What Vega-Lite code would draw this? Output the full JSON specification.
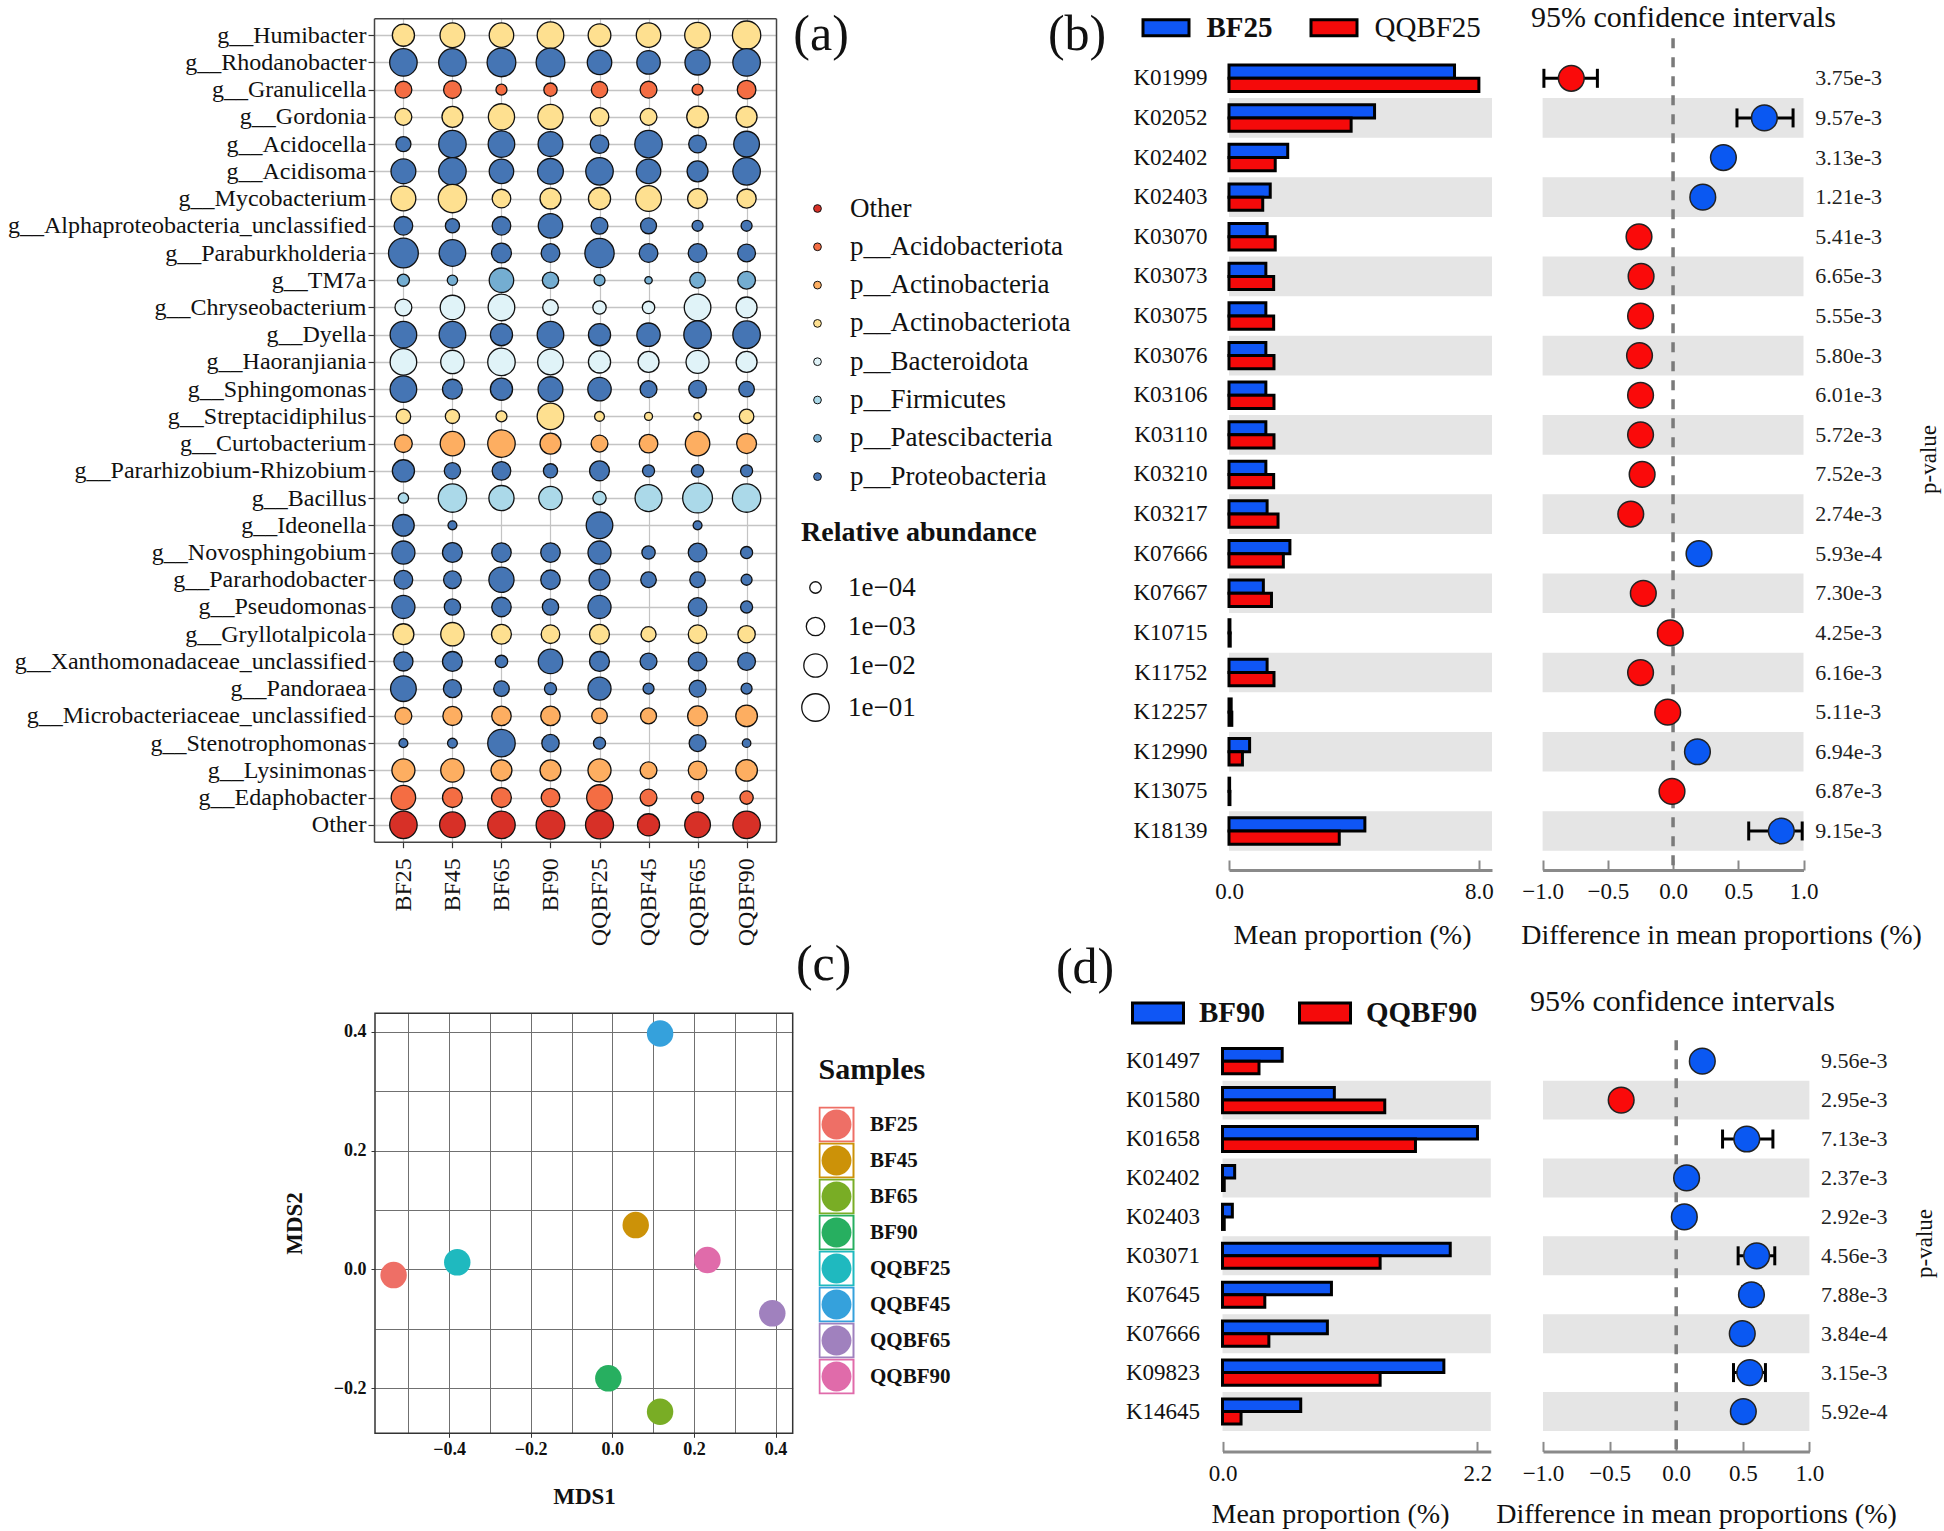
{
  "$schema": "https://vega.github.io/schema/vega-lite/v6.json",
  "width": 1944,
  "height": 1531,
  "autosize": {"type": "none"},
  "padding": 0,
  "background": "white",
  "config": {
    "font": "Liberation Serif",
    "view": {"stroke": null},
    "axis": {"labelFont": "Liberation Serif", "titleFont": "Liberation Serif", "labelColor": "#111", "titleColor": "#111", "titleFontWeight": "normal", "labelLimit": 1000, "titleLimit": 2000, "labelOverlap": false},
    "legend": {"labelFont": "Liberation Serif", "titleFont": "Liberation Serif", "labelColor": "#111", "titleColor": "#111", "padding": 0, "labelLimit": 1000, "titleLimit": 1000},
    "text": {"font": "Liberation Serif"}
  },
  "datasets": {
    "bubbles": [
      {"genus":"g__Humibacter","phylum":"p__Actinobacteriota","BF25":0.0053,"BF45":0.021,"BF65":0.0176,"BF90":0.059,"QQBF25":0.0069,"QQBF45":0.0176,"QQBF65":0.035,"QQBF90":0.173},
      {"genus":"g__Rhodanobacter","phylum":"p__Proteobacteria","BF25":0.1,"BF45":0.1,"BF65":0.217,"BF90":0.217,"QQBF25":0.0176,"QQBF45":0.01,"QQBF65":0.026,"QQBF90":0.1},
      {"genus":"g__Granulicella","phylum":"p__Acidobacteriota","BF25":0.00053,"BF45":0.00075,"BF65":0.000087,"BF90":0.000163,"QQBF25":0.00044,"QQBF45":0.00053,"QQBF65":0.000087,"QQBF90":0.00107},
      {"genus":"g__Gordonia","phylum":"p__Actinobacteriota","BF25":0.00053,"BF45":0.00294,"BF65":0.048,"BF90":0.026,"QQBF25":0.00107,"QQBF45":0.00053,"QQBF65":0.0041,"QQBF90":0.00294},
      {"genus":"g__Acidocella","phylum":"p__Proteobacteria","BF25":0.000284,"BF45":0.1,"BF65":0.0587,"BF90":0.0213,"QQBF25":0.00107,"QQBF45":0.1,"QQBF65":0.00075,"QQBF90":0.035},
      {"genus":"g__Acidisoma","phylum":"p__Proteobacteria","BF25":0.0213,"BF45":0.1,"BF65":0.0176,"BF90":0.035,"QQBF25":0.1,"QQBF45":0.0176,"QQBF65":0.00294,"QQBF90":0.1},
      {"genus":"g__Mycobacterium","phylum":"p__Actinobacteriota","BF25":0.0213,"BF45":0.173,"BF65":0.00107,"BF90":0.00294,"QQBF25":0.0053,"QQBF45":0.035,"QQBF65":0.00182,"QQBF90":0.00134},
      {"genus":"g__Alphaproteobacteria_unclassified","phylum":"p__Proteobacteria","BF25":0.00107,"BF45":0.000213,"BF65":0.00107,"BF90":0.0176,"QQBF25":0.00053,"QQBF45":0.000385,"QQBF65":0.000087,"QQBF90":0.000087},
      {"genus":"g__Paraburkholderia","phylum":"p__Proteobacteria","BF25":0.43,"BF45":0.0587,"BF65":0.00182,"BF90":0.00107,"QQBF25":0.305,"QQBF45":0.00107,"QQBF65":0.00107,"QQBF90":0.00075},
      {"genus":"g__TM7a","phylum":"p__Patescibacteria","BF25":0.000115,"BF45":0.000074,"BF65":0.0176,"BF90":0.00044,"QQBF25":0.000087,"QQBF45":0.000042,"QQBF65":0.00034,"QQBF90":0.00075},
      {"genus":"g__Chryseobacterium","phylum":"p__Bacteroidota","BF25":0.00053,"BF45":0.0176,"BF65":0.0587,"BF90":0.00034,"QQBF25":0.000163,"QQBF45":0.000126,"QQBF65":0.0587,"QQBF90":0.00294},
      {"genus":"g__Dyella","phylum":"p__Proteobacteria","BF25":0.0587,"BF45":0.0587,"BF65":0.0053,"BF90":0.0587,"QQBF25":0.0053,"QQBF45":0.01,"QQBF65":0.1,"QQBF90":0.1},
      {"genus":"g__Haoranjiania","phylum":"p__Bacteroidota","BF25":0.0587,"BF45":0.01,"BF65":0.1,"BF90":0.035,"QQBF25":0.0053,"QQBF45":0.00294,"QQBF65":0.0083,"QQBF90":0.00294},
      {"genus":"g__Sphingomonas","phylum":"p__Proteobacteria","BF25":0.0587,"BF45":0.00182,"BF65":0.0053,"BF90":0.0213,"QQBF25":0.01,"QQBF45":0.00053,"QQBF65":0.00075,"QQBF90":0.00034},
      {"genus":"g__Streptacidiphilus","phylum":"p__Actinobacteriota","BF25":0.000238,"BF45":0.000213,"BF65":0.000087,"BF90":0.0587,"QQBF25":0.000066,"QQBF45":0.000046,"QQBF65":0.000042,"QQBF90":0.000238},
      {"genus":"g__Curtobacterium","phylum":"p__Actinobacteria","BF25":0.00075,"BF45":0.0176,"BF65":0.1,"BF90":0.00294,"QQBF25":0.00053,"QQBF45":0.00107,"QQBF65":0.0176,"QQBF90":0.00182},
      {"genus":"g__Pararhizobium-Rhizobium","phylum":"p__Proteobacteria","BF25":0.0053,"BF45":0.00044,"BF65":0.00107,"BF90":0.000213,"QQBF25":0.00182,"QQBF45":0.000115,"QQBF65":0.000126,"QQBF90":0.000115},
      {"genus":"g__Bacillus","phylum":"p__Firmicutes","BF25":0.000074,"BF45":0.173,"BF65":0.026,"BF90":0.01,"QQBF25":0.000163,"QQBF45":0.072,"QQBF65":0.43,"QQBF90":0.173},
      {"genus":"g__Ideonella","phylum":"p__Proteobacteria","BF25":0.0041,"BF45":0.000055,"BF65":null,"BF90":null,"QQBF25":0.0587,"QQBF45":null,"QQBF65":0.000055,"QQBF90":null},
      {"genus":"g__Novosphingobium","phylum":"p__Proteobacteria","BF25":0.0083,"BF45":0.00182,"BF65":0.00156,"BF90":0.00156,"QQBF25":0.0083,"QQBF45":0.000163,"QQBF65":0.00107,"QQBF90":0.000115},
      {"genus":"g__Pararhodobacter","phylum":"p__Proteobacteria","BF25":0.00107,"BF45":0.00075,"BF65":0.026,"BF90":0.00156,"QQBF25":0.00294,"QQBF45":0.00034,"QQBF65":0.00034,"QQBF90":0.000087},
      {"genus":"g__Pseudomonas","phylum":"p__Proteobacteria","BF25":0.0083,"BF45":0.00044,"BF65":0.00156,"BF90":0.00044,"QQBF25":0.0083,"QQBF45":null,"QQBF65":0.00107,"QQBF90":0.000115},
      {"genus":"g__Gryllotalpicola","phylum":"p__Actinobacteriota","BF25":0.00294,"BF45":0.01,"BF65":0.00182,"BF90":0.00107,"QQBF25":0.00182,"QQBF45":0.000284,"QQBF65":0.00107,"QQBF90":0.00065},
      {"genus":"g__Xanthomonadaceae_unclassified","phylum":"p__Proteobacteria","BF25":0.00134,"BF45":0.00182,"BF65":0.000126,"BF90":0.0176,"QQBF25":0.00182,"QQBF45":0.00053,"QQBF65":0.00107,"QQBF90":0.00075},
      {"genus":"g__Pandoraea","phylum":"p__Proteobacteria","BF25":0.035,"BF45":0.00086,"BF65":0.00034,"BF90":0.000115,"QQBF25":0.0083,"QQBF45":0.000087,"QQBF65":0.00053,"QQBF90":0.000087},
      {"genus":"g__Microbacteriaceae_unclassified","phylum":"p__Actinobacteria","BF25":0.00053,"BF45":0.00134,"BF65":0.00156,"BF90":0.00156,"QQBF25":0.00034,"QQBF45":0.000385,"QQBF65":0.00182,"QQBF90":0.0041},
      {"genus":"g__Stenotrophomonas","phylum":"p__Proteobacteria","BF25":0.000055,"BF45":0.000066,"BF65":0.1,"BF90":0.00065,"QQBF25":0.000115,"QQBF45":null,"QQBF65":0.00053,"QQBF90":0.000051},
      {"genus":"g__Lysinimonas","phylum":"p__Actinobacteria","BF25":0.0083,"BF45":0.01,"BF65":0.00294,"BF90":0.00294,"QQBF25":0.0083,"QQBF45":0.00053,"QQBF65":0.00107,"QQBF90":0.0041},
      {"genus":"g__Edaphobacter","phylum":"p__Acidobacteriota","BF25":0.0176,"BF45":0.00182,"BF65":0.00182,"BF90":0.00107,"QQBF25":0.035,"QQBF45":0.00053,"QQBF65":0.000115,"QQBF90":0.000163},
      {"genus":"Other","phylum":"Other","BF25":0.1,"BF45":0.035,"BF65":0.1,"BF90":0.217,"QQBF25":0.138,"QQBF45":0.0053,"QQBF65":0.035,"QQBF90":0.1}
    ],
    "b": [
      {"ko":"K01999","BF25":7.22,"QQBF25":8.0,"diff":-0.78,"lo":-0.99,"hi":-0.58,"p":"3.75e-3","higher":"QQBF25"},
      {"ko":"K02052","BF25":4.66,"QQBF25":3.91,"diff":0.7,"lo":0.49,"hi":0.92,"p":"9.57e-3","higher":"BF25"},
      {"ko":"K02402","BF25":1.88,"QQBF25":1.48,"diff":0.386,"lo":0.35,"hi":0.42,"p":"3.13e-3","higher":"BF25"},
      {"ko":"K02403","BF25":1.32,"QQBF25":1.08,"diff":0.228,"lo":0.2,"hi":0.26,"p":"1.21e-3","higher":"BF25"},
      {"ko":"K03070","BF25":1.22,"QQBF25":1.48,"diff":-0.261,"lo":-0.29,"hi":-0.23,"p":"5.41e-3","higher":"QQBF25"},
      {"ko":"K03073","BF25":1.18,"QQBF25":1.43,"diff":-0.245,"lo":-0.28,"hi":-0.21,"p":"6.65e-3","higher":"QQBF25"},
      {"ko":"K03075","BF25":1.18,"QQBF25":1.43,"diff":-0.249,"lo":-0.28,"hi":-0.22,"p":"5.55e-3","higher":"QQBF25"},
      {"ko":"K03076","BF25":1.18,"QQBF25":1.44,"diff":-0.257,"lo":-0.29,"hi":-0.22,"p":"5.80e-3","higher":"QQBF25"},
      {"ko":"K03106","BF25":1.18,"QQBF25":1.44,"diff":-0.249,"lo":-0.28,"hi":-0.22,"p":"6.01e-3","higher":"QQBF25"},
      {"ko":"K03110","BF25":1.18,"QQBF25":1.44,"diff":-0.249,"lo":-0.28,"hi":-0.22,"p":"5.72e-3","higher":"QQBF25"},
      {"ko":"K03210","BF25":1.18,"QQBF25":1.43,"diff":-0.237,"lo":-0.27,"hi":-0.2,"p":"7.52e-3","higher":"QQBF25"},
      {"ko":"K03217","BF25":1.22,"QQBF25":1.57,"diff":-0.324,"lo":-0.36,"hi":-0.29,"p":"2.74e-3","higher":"QQBF25"},
      {"ko":"K07666","BF25":1.95,"QQBF25":1.74,"diff":0.199,"lo":0.17,"hi":0.23,"p":"5.93e-4","higher":"BF25"},
      {"ko":"K07667","BF25":1.1,"QQBF25":1.36,"diff":-0.228,"lo":-0.26,"hi":-0.2,"p":"7.30e-3","higher":"QQBF25"},
      {"ko":"K10715","BF25":0.03,"QQBF25":0.04,"diff":-0.021,"lo":-0.05,"hi":0.01,"p":"4.25e-3","higher":"QQBF25"},
      {"ko":"K11752","BF25":1.22,"QQBF25":1.44,"diff":-0.249,"lo":-0.28,"hi":-0.22,"p":"6.16e-3","higher":"QQBF25"},
      {"ko":"K12257","BF25":0.07,"QQBF25":0.09,"diff":-0.041,"lo":-0.07,"hi":-0.01,"p":"5.11e-3","higher":"QQBF25"},
      {"ko":"K12990","BF25":0.66,"QQBF25":0.43,"diff":0.187,"lo":0.16,"hi":0.22,"p":"6.94e-3","higher":"BF25"},
      {"ko":"K13075","BF25":0.02,"QQBF25":0.03,"diff":-0.008,"lo":-0.04,"hi":0.02,"p":"6.87e-3","higher":"QQBF25"},
      {"ko":"K18139","BF25":4.35,"QQBF25":3.53,"diff":0.83,"lo":0.58,"hi":0.99,"p":"9.15e-3","higher":"BF25"}
    ],
    "d": [
      {"ko":"K01497","BF90":0.515,"QQBF90":0.315,"diff":0.196,"lo":0.17,"hi":0.22,"p":"9.56e-3","higher":"BF90"},
      {"ko":"K01580","BF90":0.965,"QQBF90":1.4,"diff":-0.413,"lo":-0.44,"hi":-0.39,"p":"2.95e-3","higher":"QQBF90"},
      {"ko":"K01658","BF90":2.2,"QQBF90":1.665,"diff":0.53,"lo":0.348,"hi":0.726,"p":"7.13e-3","higher":"BF90"},
      {"ko":"K02402","BF90":0.105,"QQBF90":0.015,"diff":0.078,"lo":0.05,"hi":0.1,"p":"2.37e-3","higher":"BF90"},
      {"ko":"K02403","BF90":0.085,"QQBF90":0.015,"diff":0.061,"lo":0.04,"hi":0.08,"p":"2.92e-3","higher":"BF90"},
      {"ko":"K03071","BF90":1.965,"QQBF90":1.36,"diff":0.604,"lo":0.465,"hi":0.74,"p":"4.56e-3","higher":"BF90"},
      {"ko":"K07645","BF90":0.94,"QQBF90":0.365,"diff":0.565,"lo":0.5,"hi":0.63,"p":"7.88e-3","higher":"BF90"},
      {"ko":"K07666","BF90":0.905,"QQBF90":0.4,"diff":0.496,"lo":0.46,"hi":0.53,"p":"3.84e-4","higher":"BF90"},
      {"ko":"K09823","BF90":1.91,"QQBF90":1.36,"diff":0.552,"lo":0.43,"hi":0.67,"p":"3.15e-3","higher":"BF90"},
      {"ko":"K14645","BF90":0.675,"QQBF90":0.16,"diff":0.504,"lo":0.47,"hi":0.54,"p":"5.92e-4","higher":"BF90"}
    ],
    "mds": [
      {"sample":"BF25","MDS1":-0.536,"MDS2":-0.0096},
      {"sample":"BF45","MDS1":0.0573,"MDS2":0.0746},
      {"sample":"BF65","MDS1":0.117,"MDS2":-0.2397},
      {"sample":"BF90","MDS1":-0.0098,"MDS2":-0.1835},
      {"sample":"QQBF25","MDS1":-0.38,"MDS2":0.0118},
      {"sample":"QQBF45","MDS1":0.117,"MDS2":0.397},
      {"sample":"QQBF65","MDS1":0.392,"MDS2":-0.074},
      {"sample":"QQBF90","MDS1":0.233,"MDS2":0.0157}
    ]
  },
  "layer": [
    {
      "data": {"name": "bubbles"},
      "transform": [
        {"fold": ["BF25","BF45","BF65","BF90","QQBF25","QQBF45","QQBF65","QQBF90"], "as": ["sample","abundance"]},
        {"filter": "isValid(datum.abundance)"}
      ],
      "layer": [
        {
          "mark": {"type": "point", "opacity": 0},
          "encoding": {
            "x": {"field": "sample", "type": "nominal",
              "scale": {"type": "point", "domain": ["BF25","BF45","BF65","BF90","QQBF25","QQBF45","QQBF65","QQBF90"], "range": [374, 776], "padding": 0.6},
              "axis": {"orient": "top", "offset": -18.3, "title": null, "labels": false, "ticks": false, "grid": true, "gridColor": "#C4C4C4", "gridWidth": 1.2, "domainColor": "#444", "domainWidth": 1.5}},
            "y": {"field": "genus", "type": "nominal", "axis": {"orient": "right", "offset": -1168, "title": null, "labels": false, "ticks": false, "grid": false, "domainColor": "#444", "domainWidth": 1.5}}
          }
        },
        {
          "mark": {"type": "point", "filled": true, "stroke": "#111", "strokeWidth": 1.3, "opacity": 1},
          "encoding": {
            "x": {"field": "sample", "type": "nominal",
              "axis": {"orient": "bottom", "offset": -689.3, "title": null, "labelAngle": -90, "labelFontSize": 24, "labelPadding": 10, "tickSize": 6, "tickColor": "#333", "tickWidth": 1.2, "domainColor": "#444", "domainWidth": 1.5, "grid": false}},
            "y": {"field": "genus", "type": "nominal",
              "scale": {"type": "point", "domain": ["g__Humibacter","g__Rhodanobacter","g__Granulicella","g__Gordonia","g__Acidocella","g__Acidisoma","g__Mycobacterium","g__Alphaproteobacteria_unclassified","g__Paraburkholderia","g__TM7a","g__Chryseobacterium","g__Dyella","g__Haoranjiania","g__Sphingomonas","g__Streptacidiphilus","g__Curtobacterium","g__Pararhizobium-Rhizobium","g__Bacillus","g__Ideonella","g__Novosphingobium","g__Pararhodobacter","g__Pseudomonas","g__Gryllotalpicola","g__Xanthomonadaceae_unclassified","g__Pandoraea","g__Microbacteriaceae_unclassified","g__Stenotrophomonas","g__Lysinimonas","g__Edaphobacter","Other"], "range": [18.3, 841.7], "padding": 0.62},
              "axis": {"orient": "left", "offset": -374, "title": null, "labelFontSize": 24, "labelPadding": 2, "tickSize": 6, "tickColor": "#333", "tickWidth": 1.2, "domainColor": "#444", "domainWidth": 1.5, "grid": true, "gridColor": "#C4C4C4", "gridWidth": 1.6}},
            "fill": {"field": "phylum", "type": "nominal",
              "scale": {"domain": ["Other","p__Acidobacteriota","p__Actinobacteria","p__Actinobacteriota","p__Bacteroidota","p__Firmicutes","p__Patescibacteria","p__Proteobacteria"], "range": ["#D73027","#F46D43","#FDAE61","#FEE090","#E0F3F8","#ABD9E9","#74ADD1","#4575B4"]},
              "legend": {"orient": "none", "legendX": 804, "legendY": 195, "title": null, "symbolType": "circle", "symbolSize": 60, "symbolStrokeColor": "#111", "symbolStrokeWidth": 1, "labelFontSize": 27, "labelOffset": 19, "rowPadding": 10.3}},
            "size": {"field": "abundance", "type": "quantitative",
              "scale": {"type": "log", "domain": [0.0001, 0.1], "range": [133, 755]},
              "legend": {"orient": "none", "legendX": 801, "legendY": 519, "title": "Relative abundance", "titleFontSize": 28, "titleFontWeight": "bold", "titlePadding": 27, "values": [0.0001, 0.001, 0.01, 0.1], "labelExpr": "'1e−0' + format(round(-log(datum.value)/LN10), 'd')", "labelFontSize": 27, "labelOffset": 18, "rowPadding": 11, "symbolType": "circle", "symbolStrokeColor": "#111", "symbolStrokeWidth": 1.3, "symbolFillColor": "white",
                "encode": {"symbols": {"update": {"fill": {"value": "white"}, "stroke": {"value": "#111"}, "strokeWidth": {"value": 1.3}}}}}}
          }
        }
      ],
      "resolve": {"axis": {"x": "independent", "y": "independent"}}
    },
    {
      "data": {"name": "b"},
      "layer": [
        {
          "layer": [
            {
              "transform": [{"window": [{"op": "row_number", "as": "rn"}]}, {"filter": "datum.rn % 2 == 0"}],
              "mark": {"type": "rect", "color": "#E5E5E5"},
              "encoding": {
                "y": {"field": "ko", "type": "nominal",
                  "scale": {"type": "band", "domain": ["K01999","K02052","K02402","K02403","K03070","K03073","K03075","K03076","K03106","K03110","K03210","K03217","K07666","K07667","K10715","K11752","K12257","K12990","K13075","K18139"], "range": [58.5, 850.8], "paddingInner": 0, "paddingOuter": 0},
                  "axis": {"orient": "left", "offset": -1229, "title": null, "ticks": false, "domain": false, "grid": false, "labelFontSize": 23, "labelPadding": 22}},
                "x": {"datum": 0, "type": "quantitative", "scale": {"domain": [0, 8.42], "range": [1229, 1492], "nice": false, "zero": false},
                  "axis": {"orient": "bottom", "offset": -661, "values": [0, 8], "format": ".1f", "labelFlush": false, "title": "Mean proportion (%)", "titleFontSize": 28, "titleX": 1352, "titleY": 65, "titleAlign": "center", "titleBaseline": "middle", "labelFontSize": 23, "tickSize": -10, "tickWidth": 2, "tickColor": "#8A8A8A", "labelPadding": 20, "domainColor": "#8A8A8A", "domainWidth": 3, "grid": false}},
                "x2": {"datum": 8.42}
              }
            },
            {
              "transform": [{"fold": ["BF25","QQBF25"], "as": ["group","prop"]}],
              "mark": {"type": "bar", "stroke": "#000", "strokeWidth": 3},
              "encoding": {
                "y": {"field": "ko", "type": "nominal", "axis": null},
                "yOffset": {"field": "group", "type": "nominal", "scale": {"domain": ["BF25","QQBF25"], "paddingInner": 0, "paddingOuter": 0.5}},
                "x": {"field": "prop", "type": "quantitative", "scale": {"domain": [0, 8.42], "nice": false}, "axis": null},
                "fill": {"field": "group", "type": "nominal", "scale": {"domain": ["BF25","QQBF25"], "range": ["#0F56F5","#F50A0A"]},
                  "legend": {"orient": "none", "legendX": 1141.5, "legendY": 3, "direction": "horizontal", "title": null, "symbolType": "M-1,-0.35L1,-0.35L1,0.35L-1,0.35Z", "symbolSize": 2116, "symbolStrokeColor": "#000", "symbolStrokeWidth": 3, "labelFontSize": 29, "labelOffset": 16, "columnPadding": 31,
                    "encode": {"labels": {"update": {"fontWeight": {"signal": "datum.label === 'BF25' ? 'bold' : 'normal'"}}}}}}
              }
            }
          ],
          "resolve": {"axis": {"x": "independent", "y": "independent"}}
        },
        {
          "layer": [
            {
              "transform": [{"window": [{"op": "row_number", "as": "rn"}]}, {"filter": "datum.rn % 2 == 0"}],
              "mark": {"type": "rect", "color": "#E5E5E5"},
              "encoding": {
                "y": {"field": "ko", "type": "nominal", "axis": null},
                "x": {"datum": -1, "type": "quantitative", "scale": {"domain": [-1, 1], "range": [1542.6, 1803.5], "nice": false, "zero": false},
                  "axis": {"orient": "bottom", "offset": -661, "values": [-1, -0.5, 0, 0.5, 1], "format": ".1f", "labelFlush": false, "title": "Difference in mean proportions (%)", "titleFontSize": 28, "titleX": 1721, "titleY": 65, "titleAlign": "center", "titleBaseline": "middle", "labelFontSize": 23, "tickSize": -10, "tickWidth": 2, "tickColor": "#8A8A8A", "labelPadding": 20, "domainColor": "#8A8A8A", "domainWidth": 3, "grid": false}},
                "x2": {"datum": 1}
              }
            },
            {
              "data": {"values": [{}]},
              "mark": {"type": "rule", "color": "#7A7A7A", "strokeWidth": 3.5, "strokeDash": [10, 9], "yOffset": -40, "y2Offset": 39},
              "encoding": {
                "x": {"datum": 0, "type": "quantitative", "axis": null},
                "y": {"datum": "K01999", "type": "nominal", "axis": null},
                "y2": {"datum": "K18139"}
              }
            },
            {
              "mark": {"type": "rule", "color": "#000", "strokeWidth": 3},
              "encoding": {
                "y": {"field": "ko", "type": "nominal", "axis": null},
                "x": {"field": "lo", "type": "quantitative", "axis": null},
                "x2": {"field": "hi"}
              }
            },
            {
              "mark": {"type": "tick", "color": "#000", "thickness": 3, "size": 19, "opacity": 1},
              "encoding": {
                "y": {"field": "ko", "type": "nominal", "axis": null},
                "x": {"field": "lo", "type": "quantitative", "axis": null}
              }
            },
            {
              "mark": {"type": "tick", "color": "#000", "thickness": 3, "size": 19, "opacity": 1},
              "encoding": {
                "y": {"field": "ko", "type": "nominal", "axis": null},
                "x": {"field": "hi", "type": "quantitative", "axis": null}
              }
            },
            {
              "mark": {"type": "point", "filled": true, "size": 660, "stroke": "#222", "strokeWidth": 1.5, "opacity": 1},
              "encoding": {
                "y": {"field": "ko", "type": "nominal",
                  "axis": {"orient": "right", "offset": 0, "labels": false, "ticks": false, "domain": false, "grid": false, "title": "p-value", "titleFontSize": 23, "titleAngle": 270, "titleX": -16, "titleY": 459, "titleAlign": "center", "titleBaseline": "middle"}},
                "x": {"field": "diff", "type": "quantitative", "axis": null},
                "color": {"field": "higher", "type": "nominal", "scale": {"domain": ["BF25","QQBF25"], "range": ["#0A58F2","#FA0A0A"]}, "legend": null}
              }
            },
            {
              "mark": {"type": "text", "align": "left", "baseline": "middle", "fontSize": 22, "color": "#222"},
              "encoding": {
                "y": {"field": "ko", "type": "nominal", "axis": null},
                "x": {"datum": 1.091, "type": "quantitative",
                  "axis": {"orient": "top", "offset": 0, "labels": false, "ticks": false, "domain": false, "grid": false, "title": "95% confidence intervals", "titleFontSize": 30, "titleX": 1683, "titleY": 17, "titleAlign": "center", "titleBaseline": "middle"}},
                "text": {"field": "p"}
              }
            }
          ],
          "resolve": {"axis": {"x": "independent", "y": "independent"}}
        }
      ],
      "resolve": {"scale": {"x": "independent"}, "axis": {"x": "independent", "y": "independent"}}
    },
    {
      "layer": [
        {
          "data": {"values": [{}]},
          "mark": {"type": "rect", "filled": false, "stroke": "#333", "strokeWidth": 1.5},
          "encoding": {
            "x": {"datum": -0.5816, "type": "quantitative", "scale": {"domain": [-0.5816, 0.442], "range": [375, 792.7], "nice": false, "zero": false},
              "axis": {"orient": "top", "offset": -1013.3, "values": [-0.5,-0.4,-0.3,-0.2,-0.1,0,0.1,0.2,0.3,0.4], "labels": false, "ticks": false, "domain": false, "grid": true, "gridColor": "#707070", "gridWidth": 1, "title": null}},
            "x2": {"datum": 0.442},
            "y": {"datum": -0.276, "type": "quantitative", "scale": {"domain": [-0.276, 0.431], "range": [1433.3, 1013.3], "nice": false, "zero": false},
              "axis": {"orient": "left", "offset": -375, "values": [-0.2,-0.1,0,0.1,0.2,0.3,0.4], "labels": false, "ticks": false, "domain": false, "grid": true, "gridColor": "#707070", "gridWidth": 1, "title": null}},
            "y2": {"datum": 0.431}
          }
        },
        {
          "data": {"name": "mds"},
          "mark": {"type": "point", "shape": "square", "filled": false, "size": 20, "strokeWidth": 1, "opacity": 1},
          "encoding": {
            "x": {"field": "MDS1", "type": "quantitative", "axis": null},
            "y": {"field": "MDS2", "type": "quantitative", "axis": null},
            "stroke": {"field": "sample", "type": "nominal",
              "scale": {"domain": ["BF25","BF45","BF65","BF90","QQBF25","QQBF45","QQBF65","QQBF90"], "range": ["#EE6F66","#CC9208","#79AD25","#27AF60","#1FB9BF","#35A1DC","#A081BE","#E06BAA"]},
              "legend": {"orient": "none", "legendX": 818.5, "legendY": 1055, "title": "Samples", "titleOpacity": 0, "titleFontSize": 30, "titleFontWeight": "bold", "titlePadding": 21.5, "symbolType": "M-1,-1L1,-1L1,1L-1,1Z", "symbolSize": 1156, "symbolStrokeWidth": 2, "clipHeight": 36, "labelOpacity": 0, "labelFontSize": 21, "labelFontWeight": "bold", "labelOffset": 15.5, "rowPadding": 0,
                "encode": {"symbols": {"update": {"fill": {"value": "#F6F6F6"}, "fillOpacity": {"value": 1}}}}}}
          }
        },
        {
          "data": {"name": "mds"},
          "mark": {"type": "circle", "size": 700, "opacity": 1},
          "encoding": {
            "x": {"field": "MDS1", "type": "quantitative",
              "axis": {"orient": "bottom", "offset": -97.7, "values": [-0.4,-0.2,0,0.2,0.4], "format": ".1f", "labelFlush": false, "labelFontSize": 18, "labelFontWeight": "bold", "tickSize": 4, "tickColor": "#333", "labelPadding": 3, "domain": false, "grid": false, "title": "MDS1", "titleFontSize": 23, "titleFontWeight": "bold", "titleX": 584, "titleY": 63, "titleBaseline": "middle", "titleAlign": "center"}},
            "y": {"field": "MDS2", "type": "quantitative",
              "axis": {"orient": "left", "offset": -375, "values": [-0.2,0,0.2,0.4], "format": ".1f", "labelFontSize": 18, "labelFontWeight": "bold", "tickSize": 4, "tickColor": "#333", "labelPadding": 5, "domain": false, "grid": false, "title": "MDS2", "titleFontSize": 23, "titleFontWeight": "bold", "titleAngle": 270, "titleX": -81, "titleY": 1223, "titleBaseline": "middle", "titleAlign": "center"}},
            "color": {"field": "sample", "type": "nominal",
              "scale": {"domain": ["BF25","BF45","BF65","BF90","QQBF25","QQBF45","QQBF65","QQBF90"], "range": ["#EE6F66","#CC9208","#79AD25","#27AF60","#1FB9BF","#35A1DC","#A081BE","#E06BAA"]},
              "legend": {"orient": "none", "legendX": 818.5, "legendY": 1055, "title": "Samples", "titleFontSize": 30, "titleFontWeight": "bold", "titlePadding": 21.5, "symbolType": "M0.88,0A0.88,0.88,0,1,1,-0.88,0A0.88,0.88,0,1,1,0.88,0Z", "symbolSize": 1156, "symbolStrokeWidth": 2, "clipHeight": 36, "labelFontSize": 21, "labelFontWeight": "bold", "labelOffset": 15.5, "rowPadding": 0,
                "encode": {"symbols": {"update": {"strokeOpacity": {"value": 0}}}}}}
          }
        },
        {
          "data": {"values": [{}]},
          "mark": {"type": "text", "text": "(a)", "fontSize": 50, "align": "center", "baseline": "middle", "color": "#111"},
          "encoding": {"x": {"datum": 0.5115, "type": "quantitative", "axis": null}, "y": {"datum": 2.078, "type": "quantitative", "axis": null}}
        },
        {
          "data": {"values": [{}]},
          "mark": {"type": "text", "text": "(b)", "fontSize": 50, "align": "center", "baseline": "middle", "color": "#111"},
          "encoding": {"x": {"datum": 1.139, "type": "quantitative", "axis": null}, "y": {"datum": 2.078, "type": "quantitative", "axis": null}}
        },
        {
          "data": {"values": [{}]},
          "mark": {"type": "text", "text": "(c)", "fontSize": 50, "align": "center", "baseline": "middle", "color": "#111"},
          "encoding": {"x": {"datum": 0.518, "type": "quantitative", "axis": null}, "y": {"datum": 0.5123, "type": "quantitative", "axis": null}}
        },
        {
          "data": {"values": [{}]},
          "mark": {"type": "text", "text": "(d)", "fontSize": 50, "align": "center", "baseline": "middle", "color": "#111"},
          "encoding": {"x": {"datum": 1.1586, "type": "quantitative", "axis": null}, "y": {"datum": 0.5066, "type": "quantitative", "axis": null}}
        }
      ],
      "resolve": {"axis": {"x": "independent", "y": "independent"}, "scale": {"stroke": "independent", "color": "independent"}}
    },
    {
      "data": {"name": "d"},
      "layer": [
        {
          "layer": [
            {
              "transform": [{"window": [{"op": "row_number", "as": "rn"}]}, {"filter": "datum.rn % 2 == 0"}],
              "mark": {"type": "rect", "color": "#E5E5E5"},
              "encoding": {
                "y": {"field": "ko", "type": "nominal",
                  "scale": {"type": "band", "domain": ["K01497","K01580","K01658","K02402","K02403","K03071","K07645","K07666","K09823","K14645"], "range": [1041.7, 1431.0], "paddingInner": 0, "paddingOuter": 0},
                  "axis": {"orient": "left", "offset": -1222.5, "title": null, "ticks": false, "domain": false, "grid": false, "labelFontSize": 23, "labelPadding": 23}},
                "x": {"datum": 0, "type": "quantitative", "scale": {"domain": [0, 2.315], "range": [1222.5, 1490.8], "nice": false, "zero": false},
                  "axis": {"orient": "bottom", "offset": -79.6, "values": [0, 2.2], "format": ".1f", "labelFlush": false, "title": "Mean proportion (%)", "titleFontSize": 28, "titleX": 1330, "titleY": 62.6, "titleAlign": "center", "titleBaseline": "middle", "labelFontSize": 23, "tickSize": -10, "tickWidth": 2, "tickColor": "#8A8A8A", "labelPadding": 21, "domainColor": "#8A8A8A", "domainWidth": 3, "grid": false}},
                "x2": {"datum": 2.315}
              }
            },
            {
              "transform": [{"fold": ["BF90","QQBF90"], "as": ["group","prop"]}],
              "mark": {"type": "bar", "stroke": "#000", "strokeWidth": 3},
              "encoding": {
                "y": {"field": "ko", "type": "nominal", "axis": null},
                "yOffset": {"field": "group", "type": "nominal", "scale": {"domain": ["BF90","QQBF90"], "paddingInner": 0, "paddingOuter": 0.55}},
                "x": {"field": "prop", "type": "quantitative", "scale": {"domain": [0, 2.315], "nice": false}, "axis": null},
                "fill": {"field": "group", "type": "nominal", "scale": {"domain": ["BF90","QQBF90"], "range": ["#0F56F5","#F50A0A"]},
                  "legend": {"orient": "none", "legendX": 1131, "legendY": 986, "direction": "horizontal", "title": null, "symbolType": "M-1,-0.39L1,-0.39L1,0.39L-1,0.39Z", "symbolSize": 2601, "symbolStrokeColor": "#000", "symbolStrokeWidth": 3, "labelFontSize": 29, "labelFontWeight": "bold", "labelOffset": 14, "columnPadding": 27}}
              }
            }
          ],
          "resolve": {"axis": {"x": "independent", "y": "independent"}}
        },
        {
          "layer": [
            {
              "transform": [{"window": [{"op": "row_number", "as": "rn"}]}, {"filter": "datum.rn % 2 == 0"}],
              "mark": {"type": "rect", "color": "#E5E5E5"},
              "encoding": {
                "y": {"field": "ko", "type": "nominal", "axis": null},
                "x": {"datum": -1, "type": "quantitative", "scale": {"domain": [-1, 1], "range": [1543, 1809.4], "nice": false, "zero": false},
                  "axis": {"orient": "bottom", "offset": -79.6, "values": [-1, -0.5, 0, 0.5, 1], "format": ".1f", "labelFlush": false, "title": "Difference in mean proportions (%)", "titleFontSize": 28, "titleX": 1696, "titleY": 62.6, "titleAlign": "center", "titleBaseline": "middle", "labelFontSize": 23, "tickSize": -10, "tickWidth": 2, "tickColor": "#8A8A8A", "labelPadding": 21, "domainColor": "#8A8A8A", "domainWidth": 3, "grid": false}},
                "x2": {"datum": 1}
              }
            },
            {
              "data": {"values": [{}]},
              "mark": {"type": "rule", "color": "#7A7A7A", "strokeWidth": 3.5, "strokeDash": [10, 9], "yOffset": -20.8, "y2Offset": 39.8},
              "encoding": {
                "x": {"datum": 0, "type": "quantitative", "axis": null},
                "y": {"datum": "K01497", "type": "nominal", "axis": null},
                "y2": {"datum": "K14645"}
              }
            },
            {
              "mark": {"type": "rule", "color": "#000", "strokeWidth": 3},
              "encoding": {
                "y": {"field": "ko", "type": "nominal", "axis": null},
                "x": {"field": "lo", "type": "quantitative", "axis": null},
                "x2": {"field": "hi"}
              }
            },
            {
              "mark": {"type": "tick", "color": "#000", "thickness": 3, "size": 19, "opacity": 1},
              "encoding": {
                "y": {"field": "ko", "type": "nominal", "axis": null},
                "x": {"field": "lo", "type": "quantitative", "axis": null}
              }
            },
            {
              "mark": {"type": "tick", "color": "#000", "thickness": 3, "size": 19, "opacity": 1},
              "encoding": {
                "y": {"field": "ko", "type": "nominal", "axis": null},
                "x": {"field": "hi", "type": "quantitative", "axis": null}
              }
            },
            {
              "mark": {"type": "point", "filled": true, "size": 660, "stroke": "#222", "strokeWidth": 1.5, "opacity": 1},
              "encoding": {
                "y": {"field": "ko", "type": "nominal",
                  "axis": {"orient": "right", "offset": 0, "labels": false, "ticks": false, "domain": false, "grid": false, "title": "p-value", "titleFontSize": 23, "titleAngle": 270, "titleX": -20, "titleY": 1243, "titleAlign": "center", "titleBaseline": "middle"}},
                "x": {"field": "diff", "type": "quantitative", "axis": null},
                "color": {"field": "higher", "type": "nominal", "scale": {"domain": ["BF90","QQBF90"], "range": ["#0A58F2","#FA0A0A"]}, "legend": null}
              }
            },
            {
              "mark": {"type": "text", "align": "left", "baseline": "middle", "fontSize": 22, "color": "#222"},
              "encoding": {
                "y": {"field": "ko", "type": "nominal", "axis": null},
                "x": {"datum": 1.087, "type": "quantitative",
                  "axis": {"orient": "top", "offset": 0, "labels": false, "ticks": false, "domain": false, "grid": false, "title": "95% confidence intervals", "titleFontSize": 30, "titleX": 1682, "titleY": 1001, "titleAlign": "center", "titleBaseline": "middle"}},
                "text": {"field": "p"}
              }
            }
          ],
          "resolve": {"axis": {"x": "independent", "y": "independent"}}
        }
      ],
      "resolve": {"scale": {"x": "independent"}, "axis": {"x": "independent", "y": "independent"}}
    }
  ],
  "resolve": {
    "scale": {"x": "independent", "y": "independent", "fill": "independent", "color": "independent", "stroke": "independent", "size": "independent", "yOffset": "independent"},
    "axis": {"x": "independent", "y": "independent"},
    "legend": {"fill": "independent", "color": "independent", "stroke": "independent", "size": "independent"}
  }
}
